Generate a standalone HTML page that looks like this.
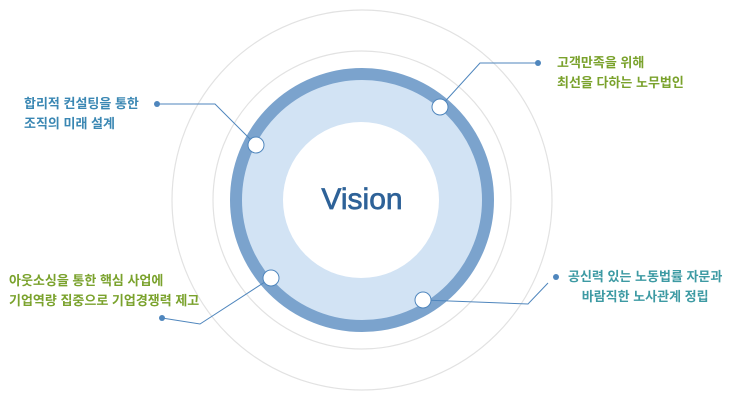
<!DOCTYPE html><html><head><meta charset="utf-8"><style>
body{margin:0;width:730px;height:408px;background:#fff;overflow:hidden;position:relative;font-family:"Liberation Sans","Noto Sans CJK KR",sans-serif}
.t{position:absolute;font-size:13px;font-weight:bold;line-height:20px;white-space:nowrap}
</style></head><body>
<svg width="730" height="408" style="position:absolute;left:0;top:0">
<circle cx="362" cy="200" r="190" fill="none" stroke="#e2e2e2" stroke-width="1.2"/>
<circle cx="362" cy="200" r="149" fill="none" stroke="#e2e2e2" stroke-width="1.2"/>
<circle cx="362" cy="200" r="126" fill="#d2e3f4" stroke="#7ba3cd" stroke-width="12"/>
<circle cx="361" cy="200" r="78" fill="#fff"/>
<text x="362" y="209" text-anchor="middle" font-family="Liberation Sans,sans-serif" font-size="30" fill="#2e6298" stroke="#2e6298" stroke-width="0.7">Vision</text>
<g fill="none" stroke="#4f86bd" stroke-width="1">
<polyline points="157,104 215,104 256,145"/>
<polyline points="440,107 480,63 538,63"/>
<polyline points="423,300 528,304 548,283"/>
<polyline points="162,318 200,324 271,278"/>
</g>
<g fill="#4f86bd"><circle cx="157" cy="104" r="3"/><circle cx="538" cy="63" r="3"/><circle cx="556" cy="277" r="3"/><circle cx="162" cy="318" r="3"/></g>
<g fill="#fff" stroke="#4f86bd" stroke-width="1"><circle cx="256" cy="145" r="8"/><circle cx="440" cy="107" r="8"/><circle cx="271" cy="278" r="8"/><circle cx="423" cy="300" r="8"/></g>
</svg>
<div class="t" style="left:24px;top:94px;color:#3a87b3">합리적 컨설팅을 통한<br>조직의 미래 설계</div>
<div class="t" style="left:557px;top:53px;color:#7aa22c">고객만족을 위해<br>최선을 다하는 노무법인</div>
<div class="t" style="left:568px;top:267px;color:#3d9aa3;text-align:center">공신력 있는 노동법률 자문과<br>바람직한 노사관계 정립</div>
<div class="t" style="left:9px;top:271px;color:#7aa22c">아웃소싱을 통한 핵심 사업에<br>기업역량 집중으로 기업경쟁력 제고</div>
</body></html>
